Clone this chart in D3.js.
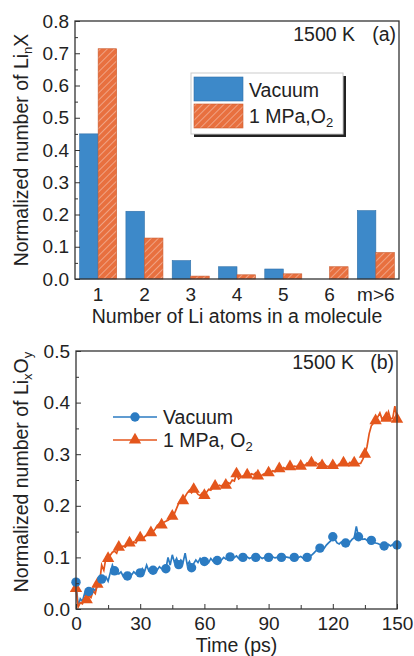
<!DOCTYPE html>
<html>
<head>
<meta charset="utf-8">
<script src="https://cdn.jsdelivr.net/npm/d3@7"></script>
<style>
  body { margin: 0; background: #fff; }
  text { font-family: "Liberation Sans", Arial, sans-serif; fill: #222; }
</style>
</head>
<body>
<div id="container"></div>
<script>
// ---- data ----
const categories = ['1', '2', '3', '4', '5', '6', 'm>6'];
const vacuumCounts = [0.450, 0.210, 0.057, 0.038, 0.031, 0.000, 0.212];
const oxygenCounts = [0.714, 0.127, 0.009, 0.013, 0.016, 0.038, 0.082];
const yTicksA = [0, 0.1, 0.2, 0.3, 0.4, 0.5, 0.6, 0.7, 0.8];

// time series, one sample per ps from 0 to 150
const vacuumSeries = [
  0.052,0.005,0.020,0.015,0.030,0.022,0.034,0.028,0.040,0.035,
  0.045,0.050,0.058,0.055,0.062,0.054,0.070,0.085,0.074,0.070,
  0.068,0.072,0.064,0.068,0.064,0.070,0.066,0.072,0.068,0.075,
  0.070,0.078,0.072,0.085,0.074,0.078,0.075,0.080,0.076,0.082,
  0.078,0.080,0.078,0.100,0.085,0.105,0.090,0.098,0.086,0.095,
  0.090,0.108,0.085,0.092,0.080,0.088,0.095,0.090,0.098,0.092,
  0.092,0.095,0.090,0.098,0.093,0.096,0.094,0.097,0.095,0.100,
  0.097,0.099,0.101,0.098,0.100,0.103,0.098,0.100,0.100,0.099,
  0.101,0.098,0.100,0.102,0.100,0.099,0.101,0.098,0.100,0.102,
  0.100,0.098,0.101,0.099,0.100,0.103,0.100,0.098,0.101,0.100,
  0.099,0.101,0.100,0.098,0.100,0.102,0.099,0.097,0.100,0.101,
  0.104,0.108,0.112,0.116,0.118,0.120,0.118,0.124,0.128,0.132,
  0.140,0.135,0.128,0.126,0.130,0.128,0.128,0.132,0.130,0.135,
  0.138,0.160,0.140,0.138,0.135,0.136,0.133,0.134,0.133,0.130,
  0.128,0.127,0.125,0.124,0.122,0.120,0.125,0.122,0.125,0.123,0.124
];
const oxygenSeries = [
  0.040,0.004,0.012,0.010,0.020,0.018,0.025,0.022,0.035,0.030,
  0.048,0.050,0.085,0.075,0.100,0.098,0.104,0.110,0.112,0.108,
  0.120,0.118,0.122,0.120,0.125,0.128,0.124,0.130,0.128,0.135,
  0.138,0.134,0.140,0.143,0.145,0.148,0.150,0.155,0.162,0.165,
  0.163,0.168,0.170,0.172,0.175,0.180,0.185,0.195,0.205,0.212,
  0.210,0.218,0.225,0.230,0.225,0.232,0.228,0.222,0.220,0.225,
  0.220,0.226,0.232,0.230,0.235,0.238,0.236,0.240,0.238,0.242,
  0.240,0.245,0.243,0.250,0.248,0.262,0.252,0.255,0.258,0.256,
  0.260,0.258,0.262,0.260,0.264,0.258,0.255,0.260,0.262,0.260,
  0.264,0.265,0.268,0.266,0.270,0.272,0.270,0.274,0.272,0.275,
  0.276,0.274,0.277,0.276,0.279,0.277,0.280,0.278,0.283,0.280,
  0.283,0.281,0.284,0.280,0.283,0.278,0.281,0.277,0.276,0.279,
  0.278,0.280,0.277,0.281,0.279,0.283,0.282,0.280,0.284,0.281,
  0.283,0.280,0.282,0.282,0.290,0.300,0.315,0.340,0.355,0.360,
  0.365,0.372,0.380,0.368,0.372,0.370,0.382,0.368,0.370,0.393,0.368
];
const timePs = d3.range(0, vacuumSeries.length);
const xTicksB = [0, 30, 60, 90, 120, 150];
const yTicksB = [0, 0.1, 0.2, 0.3, 0.4, 0.5];

// ---- setup ----
const WIDTH = 414, HEIGHT = 656;
const BLUE = '#3d89c9', ORANGE = '#e8703f';
const LINE_BLUE = '#2b7bc2', LINE_ORANGE = '#e4561c';
const FS = 19.5;    // general text size
const FS_TICK = 19; // tick labels

const svg = d3.select('#container').append('svg')
  .attr('width', WIDTH).attr('height', HEIGHT);

const defs = svg.append('defs');
const hatch = defs.append('pattern')
  .attr('id', 'hatch')
  .attr('patternUnits', 'userSpaceOnUse')
  .attr('width', 5).attr('height', 5)
  .attr('patternTransform', 'rotate(45)');
hatch.append('rect').attr('width', 5).attr('height', 5).attr('fill', ORANGE);
hatch.append('line').attr('x1', 0).attr('y1', 0).attr('x2', 0).attr('y2', 5)
  .attr('stroke', '#fff').attr('stroke-opacity', 0.6).attr('stroke-width', 1.2);

const fmt = d3.format('.1f');

// left axis with inward major + minor ticks
function yAxisWithMinor(g, y, ticks, minor) {
  g.call(d3.axisLeft(y).tickValues(minor).tickSize(-3).tickFormat(''));
  g.append('g').call(d3.axisLeft(y).tickValues(ticks).tickSize(-5).tickPadding(6).tickFormat(fmt));
  g.selectAll('.domain').remove();
  g.selectAll('line').attr('stroke', '#333').attr('stroke-width', 1);
  g.selectAll('text').attr('font-size', FS_TICK).attr('fill', '#222');
}

// ---- panel (a): bars ----
const A = { left: 75, right: 399, top: 21, bottom: 279 };
const xA = d3.scaleBand().domain(categories).range([A.left, A.right])
  .paddingInner(0.2).paddingOuter(0.1);
const xSub = d3.scaleBand().domain(['vac', 'o2']).range([0, xA.bandwidth()]);
const yA = d3.scaleLinear().domain([0, 0.8]).range([A.bottom, A.top]);

const gA = svg.append('g');
const barData = categories.flatMap((c, i) => [
  { c, key: 'vac', v: vacuumCounts[i] },
  { c, key: 'o2', v: oxygenCounts[i] }
]);
gA.selectAll('rect.bar').data(barData.filter(d => d.v > 0)).enter()
  .append('rect')
    .attr('class', 'bar')
    .attr('x', d => xA(d.c) + xSub(d.key))
    .attr('width', xSub.bandwidth())
    .attr('y', d => yA(d.v))
    .attr('height', d => yA(0) - yA(d.v))
    .attr('fill', d => d.key === 'vac' ? BLUE : 'url(#hatch)')
    .attr('stroke', d => d.key === 'vac' ? '#2f6fa8' : '#c95a2e')
    .attr('stroke-width', 0.6);

gA.append('g').attr('transform', `translate(${A.left},0)`)
  .call(yAxisWithMinor, yA, yTicksA, d3.range(0.05, 0.8, 0.1));

gA.append('g').attr('transform', `translate(0,${A.bottom})`)
  .call(d3.axisBottom(xA).tickSize(0).tickPadding(9))
  .call(g => g.select('.domain').remove())
  .selectAll('text').attr('font-size', FS_TICK);

gA.append('rect').attr('x', A.left).attr('y', A.top)
  .attr('width', A.right - A.left).attr('height', A.bottom - A.top)
  .attr('fill', 'none').attr('stroke', '#333').attr('stroke-width', 1.3);

gA.append('text').attr('x', 237).attr('y', 323)
  .attr('text-anchor', 'middle').attr('font-size', FS)
  .text('Number of Li atoms in a molecule');

const titleA = gA.append('text')
  .attr('transform', `translate(28,${(A.top + A.bottom) / 2}) rotate(-90)`)
  .attr('text-anchor', 'middle').attr('font-size', FS);
titleA.append('tspan').text('Normalized number of Li');
titleA.append('tspan').attr('font-size', 13).attr('dy', 4).text('n');
titleA.append('tspan').attr('dy', -4).text('X');

gA.append('text').attr('x', 355).attr('y', 41).attr('text-anchor', 'end')
  .attr('font-size', FS).text('1500 K');
gA.append('text').attr('x', 396).attr('y', 41).attr('text-anchor', 'end')
  .attr('font-size', FS).text('(a)');

// legend (a)
const legA = gA.append('g').attr('transform', 'translate(191,73)');
legA.append('rect').attr('x', 3).attr('y', 3).attr('width', 152).attr('height', 61).attr('fill', '#222');
legA.append('rect').attr('width', 152).attr('height', 61).attr('fill', '#fff')
  .attr('stroke', '#ccc').attr('stroke-width', 1);
legA.append('rect').attr('x', 3).attr('y', 4).attr('width', 49).attr('height', 24)
  .attr('fill', BLUE).attr('stroke', '#2f6fa8').attr('stroke-width', 0.6);
legA.append('rect').attr('x', 3).attr('y', 31).attr('width', 49).attr('height', 24)
  .attr('fill', 'url(#hatch)').attr('stroke', '#c95a2e').attr('stroke-width', 0.6);
legA.append('text').attr('x', 58).attr('y', 24).attr('font-size', FS).text('Vacuum');
const lA2 = legA.append('text').attr('x', 58).attr('y', 50).attr('font-size', FS);
lA2.append('tspan').text('1 MPa,O');
lA2.append('tspan').attr('font-size', 13).attr('dy', 4).text('2');

// ---- panel (b): time series ----
const B = { left: 76, right: 397, top: 351, bottom: 609 };
const xB = d3.scaleLinear().domain([0, 150]).range([B.left, B.right]);
const yB = d3.scaleLinear().domain([0, 0.5]).range([B.bottom, B.top]);

const gB = svg.append('g');

const line = series => d3.line().x(i => xB(timePs[i])).y(i => yB(series[i]))(timePs.map((_, i) => i));

gB.append('path').attr('d', line(vacuumSeries))
  .attr('fill', 'none').attr('stroke', LINE_BLUE).attr('stroke-width', 1.7);
gB.append('path').attr('d', line(oxygenSeries))
  .attr('fill', 'none').attr('stroke', LINE_ORANGE).attr('stroke-width', 1.7);

const tri = d3.symbol().type(d3.symbolTriangle).size(66);

gB.selectAll('path.tri').data(timePs.filter(t => t % 5 === 0)).enter()
  .append('path').attr('class', 'tri')
    .attr('d', tri)
    .attr('transform', t => `translate(${xB(t)},${yB(oxygenSeries[t])})`)
    .attr('fill', LINE_ORANGE);

gB.selectAll('circle.dot').data(timePs.filter(t => t % 6 === 0)).enter()
  .append('circle').attr('class', 'dot')
    .attr('cx', t => xB(t)).attr('cy', t => yB(vacuumSeries[t]))
    .attr('r', 4.7).attr('fill', LINE_BLUE);

gB.append('g').attr('transform', `translate(${B.left},0)`)
  .call(yAxisWithMinor, yB, yTicksB, d3.range(0.05, 0.5, 0.1));

const xAxisB = gB.append('g').attr('transform', `translate(0,${B.bottom})`);
xAxisB.call(d3.axisBottom(xB).tickValues(d3.range(15, 150, 30)).tickSize(-4).tickFormat(''));
xAxisB.append('g').call(d3.axisBottom(xB).tickValues(xTicksB).tickSize(-5).tickPadding(8));
xAxisB.selectAll('.domain').remove();
xAxisB.selectAll('line').attr('stroke', '#333');
xAxisB.selectAll('text').attr('font-size', FS_TICK).attr('fill', '#222');

gB.append('rect').attr('x', B.left).attr('y', B.top)
  .attr('width', B.right - B.left).attr('height', B.bottom - B.top)
  .attr('fill', 'none').attr('stroke', '#333').attr('stroke-width', 1.3);

gB.append('text').attr('x', (B.left + B.right) / 2).attr('y', 652)
  .attr('text-anchor', 'middle').attr('font-size', FS).text('Time (ps)');

const titleB = gB.append('text')
  .attr('transform', `translate(28,${(B.top + B.bottom) / 2 - 8}) rotate(-90)`)
  .attr('text-anchor', 'middle').attr('font-size', FS);
titleB.append('tspan').text('Normalized number of Li');
titleB.append('tspan').attr('font-size', 13).attr('dy', 4).text('x');
titleB.append('tspan').attr('dy', -4).text('O');
titleB.append('tspan').attr('font-size', 13).attr('dy', 4).text('y');

gB.append('text').attr('x', 354).attr('y', 369).attr('text-anchor', 'end')
  .attr('font-size', FS).text('1500 K');
gB.append('text').attr('x', 394).attr('y', 369).attr('text-anchor', 'end')
  .attr('font-size', FS).text('(b)');

// legend (b)
const legB = gB.append('g');
legB.append('line').attr('x1', 113).attr('x2', 157).attr('y1', 417).attr('y2', 417)
  .attr('stroke', LINE_BLUE).attr('stroke-width', 1.7);
legB.append('circle').attr('cx', 135).attr('cy', 417).attr('r', 4.7).attr('fill', LINE_BLUE);
legB.append('text').attr('x', 163).attr('y', 424).attr('font-size', FS).text('Vacuum');
legB.append('line').attr('x1', 113).attr('x2', 157).attr('y1', 440).attr('y2', 440)
  .attr('stroke', LINE_ORANGE).attr('stroke-width', 1.7);
legB.append('path').attr('d', tri).attr('transform', 'translate(135,440)').attr('fill', LINE_ORANGE);
const lB2 = legB.append('text').attr('x', 163).attr('y', 447).attr('font-size', FS);
lB2.append('tspan').text('1 MPa, O');
lB2.append('tspan').attr('font-size', 13).attr('dy', 4).text('2');
</script>
</body>
</html>
